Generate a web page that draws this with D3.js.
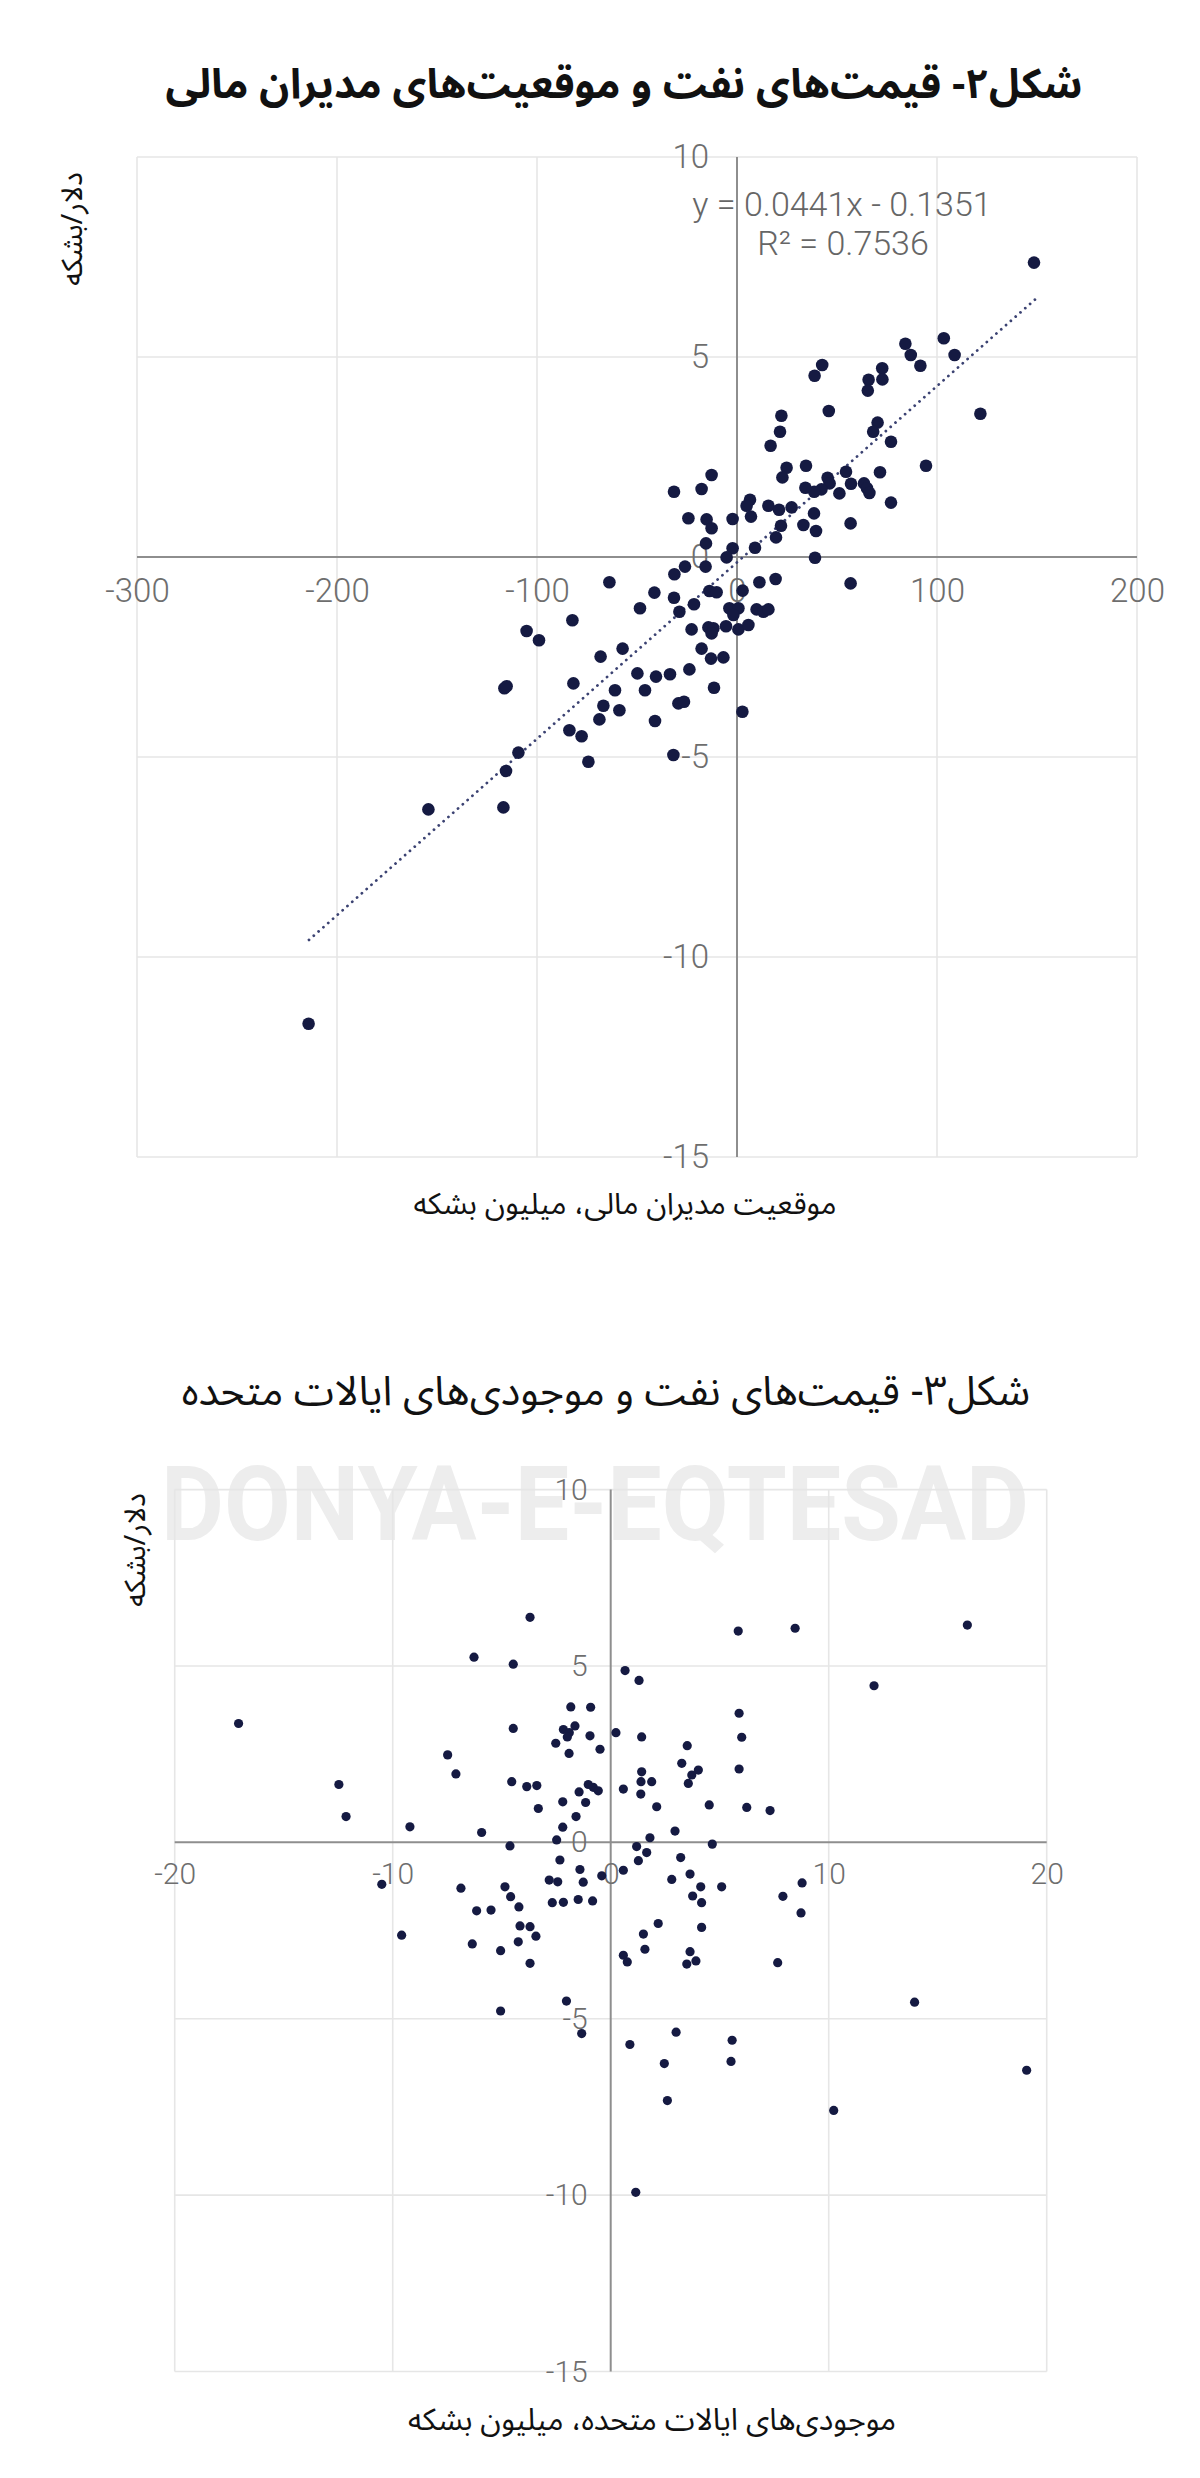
<!DOCTYPE html>
<html>
<head>
<meta charset="utf-8">
<script src="https://cdn.jsdelivr.net/npm/d3@7"></script>
<style>
  html, body { margin: 0; padding: 0; background: #ffffff; }
  svg { display: block; }
</style>
</head>
<body>
<svg id="chart" width="1200" height="2478"></svg>
<script>
// ---------------- DATA ----------------
// Figure 2: money-manager positions (million barrels) vs oil price change ($/bbl)
const fig2Positions = [148.5,103.4,108.8,84.2,86.9,91.7,42.6,38.8,72.6,72.7,65.8,65.4,45.9,121.7,22.2,
  21.5,16.8,70.3,68.1,77,94.5,34.5,24.8,22.7,54.5,71.5,-12.7,45.3,46.3,42.2,38.6,34.2,57,63.5,65,66.2,51.2,
  -31.5,-17.7,77,6.5,4.8,7,15.7,21,27.3,38.5,33.2,39.5,22,19.5,9,-2.2,-24.3,-15.2,-12.7,-15.5,-2.2,-5.2,39,56.8,
  -15.7,-26,-31.3,-63.8,11.2,19.3,56.8,-41.3,-31.5,-13.8,-10.2,2.8,-21.5,-48.5,-28.8,-3.8,0.7,-1.8,9.8,13.2,15.7,
  -82.3,-22.7,-14.3,-11.8,-12.7,-5.5,0.7,5.7,-57.2,-68.2,-17.7,-13,-6.8,-49.8,-40.5,-33.5,-23.8,-81.8,-61,-46,
  -11.5,-29.3,-26.5,-66.8,-58.8,2.7,-68.8,-41,-83.8,-77.7,-31.8,-74.3,
  -105.2,-99,-116.3,-115.2,-109.3,-115.5,-154.3,-116.8,-214.2];
const fig2Prices = [7.36,5.47,5.05,5.33,5.05,4.78,4.8,4.53,4.72,4.44,4.43,4.16,3.65,3.58,3.53,
  3.13,2.78,3.36,3.13,2.88,2.28,2.28,2.23,1.99,2.13,2.12,2.05,1.98,1.84,1.69,1.63,1.73,1.83,1.84,1.72,1.6,1.59,
  1.63,1.7,1.36,1.43,1.28,1.01,1.28,1.18,1.24,1.09,0.8,0.65,0.78,0.49,0.23,0.95,0.97,0.94,0.72,0.34,0.22,-0.01,-0.02,0.84,
  -0.24,-0.24,-0.43,-0.63,-0.63,-0.55,-0.66,-0.89,-1.02,-0.85,-0.88,-0.84,-1.18,-1.28,-1.37,-1.28,-1.28,-1.45,-1.31,-1.37,-1.31,
  -1.58,-1.81,-1.76,-1.78,-1.91,-1.73,-1.81,-1.7,-2.29,-2.49,-2.29,-2.54,-2.51,-2.91,-2.99,-2.93,-2.81,-3.16,-3.33,-3.33,
  -3.27,-3.66,-3.62,-3.72,-3.83,-3.87,-4.06,-4.1,-4.33,-4.48,-4.95,-5.12,
  -1.85,-2.08,-3.28,-3.23,-4.89,-5.35,-6.31,-6.26,-11.67];
const fig2TrendSlope = 0.0441;
const fig2TrendIntercept = -0.1351;
const fig2TrendRange = [-214, 149];
const fig2XTicks = [-300, -200, -100, 0, 100, 200];
const fig2YTicks = [-15, -10, -5, 0, 5, 10];

// Figure 3: US inventories (million barrels) vs oil price change ($/bbl)
const fig3Inventories = [-3.70,5.85,-6.27,-4.47,0.66,1.30,-1.83,-0.92,5.89,-4.47,-2.17,-1.90,-1.64,-1.99,0.24,-0.95,1.42,6.01,
  -2.52,3.51,-0.49,-1.91,-7.48,3.26,-7.10,5.89,4.02,3.72,3.56,1.42,1.39,1.88,-4.54,-3.85,-3.39,-1.03,-0.80,-0.57,-1.45,0.58,
  1.38,-2.20,-1.15,4.52,2.11,6.24,7.31,-3.32,-1.59,-9.21,-5.92,-2.20,2.95,1.80,-2.48,-4.62,4.66,1.19,1.65,-2.33,1.27,3.21,
  -1.41,0.58,-0.41,3.64,-10.50,-6.87,-2.82,-2.43,-1.26,2.80,4.13,5.09,-4.85,-4.59,3.76,4.17,-2.68,-2.17,-1.49,-0.83,7.9,
  -4.21,-6.15,-5.49,2.18,4.17,-4.16,-3.70,-3.43,1.50,-9.59,-6.35,-4.24,-5.05,1.57,3.64,0.58,0.76,3.49,3.91,-3.70,7.66,
  -2.03,-17.07,-12.47,-12.14,8.46,16.36,12.08,8.78,8.73,13.94,19.08,10.23,5.57,5.52,3.00,0.88,2.46,2.60,1.15,-1.33,-5.05];
const fig3Prices = [6.38,5.99,5.25,5.05,4.87,4.59,3.84,3.83,3.66,3.23,3.20,3.11,3.30,2.99,3.11,3.02,2.99,2.98,
  2.81,2.74,2.64,2.52,2.48,2.24,1.94,2.08,2.05,1.91,1.67,2.00,1.72,1.72,1.72,1.58,1.61,1.64,1.56,1.46,1.43,1.51,
  1.37,1.15,1.13,1.06,1.01,0.99,0.90,0.96,0.73,0.44,0.28,0.43,0.32,0.13,0.07,-0.10,-0.05,-0.12,-0.29,-0.50,-0.52,-0.43,
  -0.77,-0.79,-0.95,-0.90,-1.19,-1.30,-1.07,-1.12,-1.13,-1.05,-1.26,-1.26,-1.26,-1.54,-1.52,-1.71,-1.71,-1.70,-1.62,-1.66,-1.53,
  -1.83,-1.94,-1.92,-2.30,-2.41,-2.37,-2.39,-2.66,-2.60,-2.63,-2.88,-2.82,-3.07,-3.03,-3.10,-3.20,-3.39,-3.45,-3.36,-3.43,-3.41,
  -4.50,3.37,1.64,0.73,6.07,6.16,4.44,-1.15,-2.00,-4.53,-6.46,-7.60,-5.61,-6.21,-5.38,-5.73,-6.27,-7.32,-9.92,-5.42,-4.78];
const fig3XTicks = [-20, -10, 0, 10, 20];
const fig3YTicks = [-15, -10, -5, 0, 5, 10];

// Texts
const fig2Title = "شکل۲- قیمت\u200cهای نفت و موقعیت\u200cهای مدیران مالی";
const fig2XLabel = "موقعیت مدیران مالی، میلیون بشکه";
const fig3Title = "شکل۳- قیمت\u200cهای نفت و موجودی\u200cهای ایالات متحده";
const fig3XLabel = "موجودی\u200cهای ایالات متحده، میلیون بشکه";
const yLabel = "دلار/بشکه";
const fig2Equation = "y = 0.0441x - 0.1351";
const fig2R2 = "R² = 0.7536";
const watermarkEn = "DONYA-E-EQTESAD";

// ---------------- DRAWING ----------------
const svg = d3.select("#chart");
const faFont = "'Noto Sans Arabic','DejaVu Sans',sans-serif";
const numFont = "Roboto,'Liberation Sans',Arial,sans-serif";
const dotColor = "#151a42";

svg.append("rect").attr("width", 1200).attr("height", 2478).attr("fill", "#ffffff");

// watermark (light, behind everything)
svg.append("text")
  .attr("x", 161).attr("y", 1540)
  .attr("font-family", "Roboto, 'Liberation Sans', sans-serif").attr("font-weight", "bold")
  .attr("font-size", 103).attr("fill", "#ededed")
  .attr("textLength", 868).attr("lengthAdjust", "spacingAndGlyphs")
  .text(watermarkEn);

function drawPanel(cfg) {
  const x = d3.scaleLinear().domain(cfg.xDomain).range(cfg.xRange);
  const y = d3.scaleLinear().domain(cfg.yDomain).range(cfg.yRange);
  const g = svg.append("g");

  // grid
  g.selectAll(".vgrid").data(cfg.xTicks.filter(t => t !== 0)).enter().append("line")
    .attr("x1", d => x(d)).attr("x2", d => x(d))
    .attr("y1", y(cfg.yDomain[0])).attr("y2", y(cfg.yDomain[1]))
    .attr("stroke", "#e6e6e6").attr("stroke-width", 1.6);
  g.selectAll(".hgrid").data(cfg.yTicks.filter(t => t !== 0)).enter().append("line")
    .attr("y1", d => y(d)).attr("y2", d => y(d))
    .attr("x1", x(cfg.xDomain[0])).attr("x2", x(cfg.xDomain[1]))
    .attr("stroke", "#e6e6e6").attr("stroke-width", 1.6);

  // zero axes
  g.append("line").attr("x1", x(0)).attr("x2", x(0))
    .attr("y1", y(cfg.yDomain[0])).attr("y2", y(cfg.yDomain[1]))
    .attr("stroke", "#8e8e8e").attr("stroke-width", 2);
  g.append("line").attr("y1", y(0)).attr("y2", y(0))
    .attr("x1", x(cfg.xDomain[0])).attr("x2", x(cfg.xDomain[1]))
    .attr("stroke", "#8e8e8e").attr("stroke-width", 2);

  // tick labels via d3 axes
  const xAxis = d3.axisBottom(x).tickValues(cfg.xTicks).tickSize(0).tickPadding(cfg.xPad).tickFormat(d3.format("d"));
  const gx = g.append("g").attr("transform", `translate(0,${y(0)})`).call(xAxis);
  const yAxis = d3.axisLeft(y).tickValues(cfg.yTicks).tickSize(0).tickPadding(cfg.yPad).tickFormat(d3.format("d"));
  const gy = g.append("g").attr("transform", `translate(${x(0)},0)`).call(yAxis);
  [gx, gy].forEach(a => {
    a.select(".domain").remove();
    a.selectAll("text").attr("font-family", numFont).attr("font-weight", 300)
      .attr("font-size", cfg.tickSize).attr("fill", "#6e6e6e")
      .text(d => String(d).replace("\u2212", "-"));
  });

  // trend line
  if (cfg.trend) {
    const pts = cfg.trend.range.map(v => [v, cfg.trend.slope * v + cfg.trend.intercept]);
    g.append("path")
      .attr("d", d3.line().x(d => x(d[0])).y(d => y(d[1]))(pts))
      .attr("fill", "none").attr("stroke", "#3b4272").attr("stroke-width", 2.8)
      .attr("stroke-linecap", "round").attr("stroke-dasharray", "0.01 6.4");
  }

  // points
  const data = cfg.xs.map((v, i) => ({ x: v, y: cfg.ys[i] }));
  g.selectAll(".pt").data(data).enter().append("circle")
    .attr("cx", d => x(d.x)).attr("cy", d => y(d.y)).attr("r", cfg.r)
    .attr("fill", dotColor);

  // titles & labels
  svg.append("text").attr("x", cfg.titleX).attr("y", cfg.titleY)
    .attr("text-anchor", "middle").attr("direction", "rtl")
    .attr("font-family", faFont).attr("font-weight", cfg.titleWeight)
    .attr("font-size", cfg.titleSize).attr("fill", "#111")
    .text(cfg.title);
  svg.append("text").attr("x", cfg.xLabelX).attr("y", cfg.xLabelY)
    .attr("text-anchor", "middle").attr("direction", "rtl")
    .attr("font-family", faFont).attr("font-size", cfg.xLabelSize).attr("fill", "#111")
    .text(cfg.xLabel);
  svg.append("text")
    .attr("transform", `translate(${cfg.yLabelX},${cfg.yLabelY}) rotate(-90)`)
    .attr("text-anchor", "middle").attr("direction", "rtl")
    .attr("font-family", faFont).attr("font-size", 29).attr("fill", "#111")
    .text(yLabel);
  return { x, y, g };
}

const p2 = drawPanel({
  xDomain: [-300, 200], xRange: [137, 1137],
  yDomain: [-15, 10], yRange: [1157, 157],
  xTicks: fig2XTicks, yTicks: fig2YTicks,
  xPad: 22, yPad: 28, tickSize: 33,
  xs: fig2Positions, ys: fig2Prices, r: 6.3,
  trend: { slope: fig2TrendSlope, intercept: fig2TrendIntercept, range: fig2TrendRange },
  title: fig2Title, titleX: 624, titleY: 98, titleSize: 41.5, titleWeight: "bold",
  xLabel: fig2XLabel, xLabelX: 625, xLabelY: 1214, xLabelSize: 30,
  yLabelX: 82, yLabelY: 229
});

// regression equation
p2.g.append("text").attr("x", 842).attr("y", 216).attr("text-anchor", "middle")
  .attr("font-family", numFont).attr("font-weight", 300).attr("font-size", 34).attr("fill", "#666666")
  .text(fig2Equation);
p2.g.append("text").attr("x", 843).attr("y", 255).attr("text-anchor", "middle")
  .attr("font-family", numFont).attr("font-weight", 300).attr("font-size", 34).attr("fill", "#666666")
  .text(fig2R2);

drawPanel({
  xDomain: [-20, 20], xRange: [174.7, 1046.7],
  yDomain: [-15, 10], yRange: [2371.5, 1489.6],
  xTicks: fig3XTicks, yTicks: fig3YTicks,
  xPad: 20, yPad: 23, tickSize: 30,
  xs: fig3Inventories, ys: fig3Prices, r: 4.6,
  trend: null,
  title: fig3Title, titleX: 606, titleY: 1405, titleSize: 41, titleWeight: "normal",
  xLabel: fig3XLabel, xLabelX: 652, xLabelY: 2430, xLabelSize: 30.5,
  yLabelX: 145, yLabelY: 1550
});
</script>
</body>
</html>
